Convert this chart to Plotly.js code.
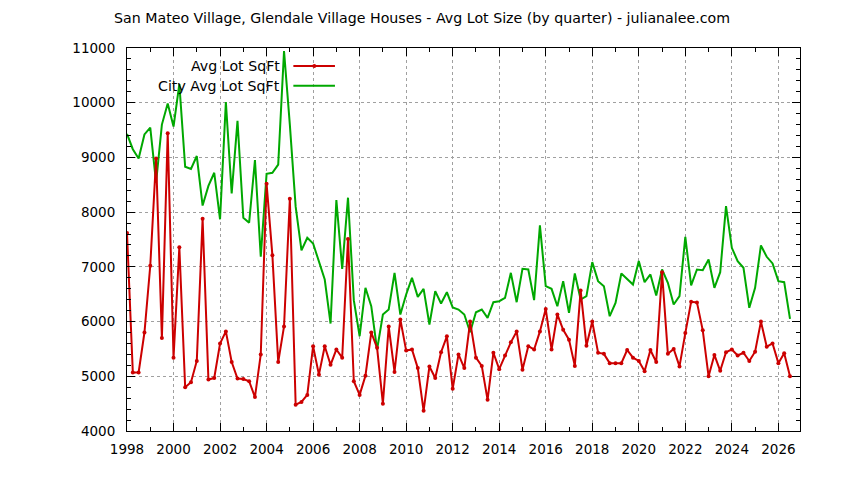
<!DOCTYPE html>
<html>
<head>
<meta charset="utf-8">
<script src="https://cdn.plot.ly/plotly-3.0.1.min.js"></script>
<style>html,body{margin:0;padding:0;background:#fff;}#chart{width:844px;height:480px;}</style>
</head>
<body>
<div id="chart"></div>
<script>
// Quarterly periods, 1998 Q1 .. 2026 Q3
const startYear = 1998;
const quarterCount = 115;
const quarters = [];
for (let i = 0; i < quarterCount; i++) quarters.push(startYear + i / 4);

const avgLotSqFt = [
  7620, 5070, 5070, 5800, 7020, 8980, 5700, 9440, 5340, 7360,
  4800, 4890, 5280, 7880, 4940, 4970, 5600, 5820, 5260, 4960,
  4950, 4910, 4620, 5400, 8520, 7210, 5260, 5910, 8245, 4480,
  4530, 4660, 5550, 5030, 5550, 5210, 5490, 5340, 7510, 4910,
  4660, 5010, 5800, 5520, 4500, 5910, 5080, 6040, 5470, 5490,
  5150, 4370, 5180, 4970, 5440, 5730, 4770, 5400, 5150, 6000,
  5340, 5190, 4570, 5430, 5130, 5380, 5620, 5820, 5120, 5550,
  5490, 5820, 6230, 5490, 6130, 5850, 5670, 5190, 6570, 5560,
  6000, 5430, 5410, 5240, 5240, 5240, 5480, 5340, 5280, 5090,
  5480, 5260, 6900, 5410, 5500, 5180, 5790, 6360, 6350, 5840,
  5000, 5390, 5100, 5440, 5490, 5380, 5430, 5280, 5450, 6000,
  5540, 5600, 5240, 5420, 5000
];

const cityAvgLotSqFt = [
  9430, 9150, 8980, 9420, 9545, 8540, 9600, 9984, 9563, 10340,
  8830, 8790, 9026, 8120, 8480, 8720, 7870, 10014, 8343, 9667,
  7897, 7806, 8953, 7184, 8700, 8720, 8870, 10945, 9600, 8100,
  7300, 7531, 7428, 7105, 6769, 5964, 8221, 6964, 8264, 6391,
  5732, 6617, 6281, 5488, 6129, 6220, 6891, 6129, 6495, 6800,
  6452, 6598, 5946, 6556, 6330, 6537, 6260, 6220, 6129, 5805,
  6171, 6220, 6068, 6354, 6372, 6433, 6891, 6354, 6964, 6952,
  6391, 7757, 6647, 6598, 6281, 6739, 6159, 6879, 6403, 6464,
  7086, 6739, 6647, 6098, 6342, 6879, 6781, 6678, 7105, 6720,
  6861, 6476, 6952, 6708, 6312, 6464, 7550, 6660, 6952, 6940,
  7135, 6617, 6903, 8111, 7348, 7105, 6983, 6251, 6617, 7391,
  7184, 7062, 6739, 6720, 6049
];

const seriesNames = ["Avg Lot SqFt", "City Avg Lot SqFt"];
const titleText = "San Mateo Village, Glendale Village Houses - Avg Lot Size (by quarter) - julianalee.com";

const RED = "#cc0000";
const GREEN = "#00a800";
const FONT = "DejaVu Sans, Verdana, sans-serif";
const TEXT_SIZE = 14.2;
const TICK_SIZE = 13.5;

const traces = [
  {
    x: quarters, y: cityAvgLotSqFt, type: "scatter", mode: "lines",
    name: seriesNames[1], line: {color: GREEN, width: 2}, showlegend: false
  },
  {
    x: quarters, y: avgLotSqFt, type: "scatter", mode: "lines+markers",
    name: seriesNames[0], line: {color: RED, width: 2},
    marker: {color: RED, size: 4, symbol: "circle"}, showlegend: false
  }
];

// legend geometry (paper units)
const legTextX = 0.2299, legLineX0 = 0.2472, legLineX1 = 0.309, legMarkX = 0.2783;
const legY1 = 0.953, legY2 = 0.9016;

const layout = {
  width: 844, height: 480,
  margin: {l: 127, r: 44, t: 48, b: 49, pad: 0},
  paper_bgcolor: "#fff", plot_bgcolor: "#fff",
  font: {family: FONT, size: TEXT_SIZE, color: "#000"},
  title: {text: titleText, font: {family: FONT, size: TEXT_SIZE, color: "#000"},
          x: 0.5, xref: "container", xanchor: "center", y: 0.9625, yref: "container", yanchor: "middle"},
  xaxis: {
    range: [1998, 2026.93], tick0: 1998, dtick: 2, ticks: "inside", ticklen: 8, tickwidth: 1, tickcolor: "#000",
    minor: {dtick: 1, tick0: 1998, ticks: "inside", ticklen: 4, tickcolor: "#000", showgrid: false},
    showline: true, linecolor: "#000", linewidth: 1, mirror: "allticks",
    showgrid: true, gridcolor: "#a0a0a0", griddash: "dot", gridwidth: 1,
    zeroline: false, ticklabelstandoff: 6, tickformat: "d",
    tickfont: {family: FONT, size: TICK_SIZE, color: "#000"}
  },
  yaxis: {
    range: [4000, 11000], tick0: 4000, dtick: 1000, ticks: "inside", ticklen: 8, tickwidth: 1, tickcolor: "#000",
    minor: {dtick: 200, ticks: "inside", ticklen: 4, tickcolor: "#000", showgrid: false},
    showline: true, linecolor: "#000", linewidth: 1, mirror: "allticks",
    showgrid: true, gridcolor: "#a0a0a0", griddash: "dot", gridwidth: 1,
    zeroline: false, ticklabelstandoff: 8, tickformat: "d",
    tickfont: {family: FONT, size: TICK_SIZE, color: "#000"}
  },
  annotations: [
    {text: seriesNames[0], xref: "paper", yref: "paper", x: legTextX, y: legY1, xanchor: "right", yanchor: "middle",
     showarrow: false, font: {family: FONT, size: TEXT_SIZE, color: "#000"}},
    {text: seriesNames[1], xref: "paper", yref: "paper", x: legTextX, y: legY2, xanchor: "right", yanchor: "middle",
     showarrow: false, font: {family: FONT, size: TEXT_SIZE, color: "#000"}}
  ],
  shapes: [
    {type: "line", xref: "paper", yref: "paper", x0: legLineX0, x1: legLineX1, y0: legY1, y1: legY1,
     line: {color: RED, width: 2}},
    {type: "circle", xref: "paper", yref: "paper", xsizemode: "pixel", ysizemode: "pixel",
     xanchor: legMarkX, yanchor: legY1, x0: -2, x1: 2, y0: -2, y1: 2,
     fillcolor: RED, line: {color: RED, width: 0}},
    {type: "line", xref: "paper", yref: "paper", x0: legLineX0, x1: legLineX1, y0: legY2, y1: legY2,
     line: {color: GREEN, width: 2}}
  ]
};

Plotly.newPlot("chart", traces, layout, {displayModeBar: false, staticPlot: true});
</script>
</body>
</html>
